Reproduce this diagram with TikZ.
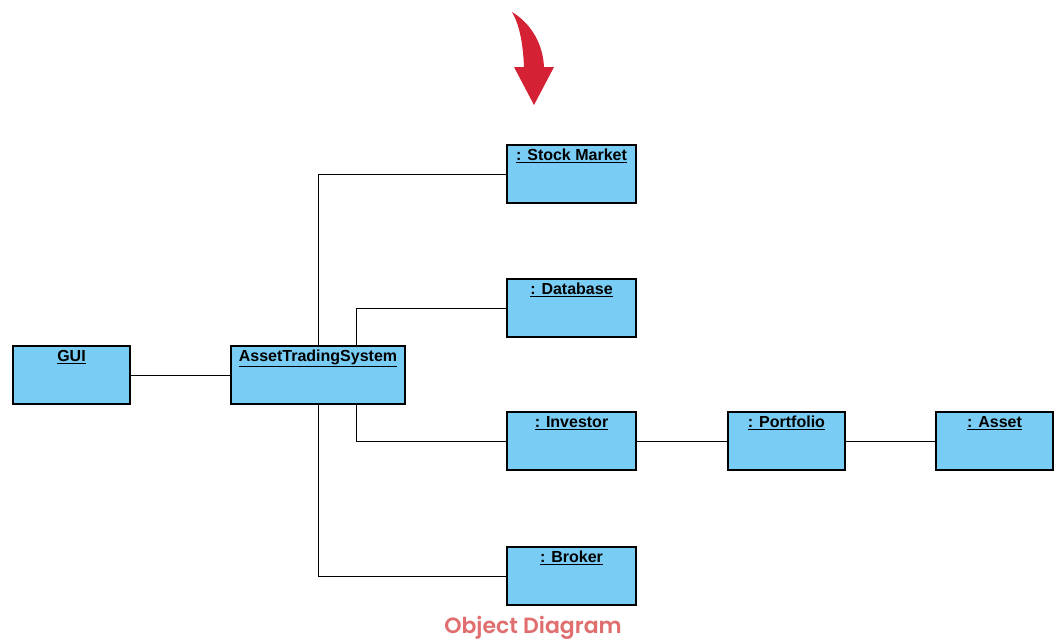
\documentclass[tikz,border=0pt]{standalone}
\usepackage{fontspec}
\setmainfont{Liberation Sans}
\newfontfamily\titlefont{Poppins}[UprightFont=* SemiBold]
\usepackage{tikz}

\definecolor{objblue}{HTML}{79CDF4}
\definecolor{arrowred}{HTML}{D42234}
\definecolor{titlered}{HTML}{E06E6E}

\begin{document}
\begin{tikzpicture}[x=1pt,y=-1pt,
	obj/.style={draw, line width=1.2pt, fill=objblue, rectangle,
		minimum width=#1, inner xsep=0pt, inner ysep=4pt,
		text height=11.5pt, text depth=38.5pt, font=\bfseries\fontsize{16}{16}\selectfont},
	obj/.default=129pt,
	link/.style={draw, line width=1pt}]
\useasboundingbox (0,0) rectangle (1061,641);
% red arrow pointing down
\fill [arrowred] (512,12) .. controls (532,24) and (543,45) .. (544,67)
	-- (554,67) -- (534,105) -- (514,67) -- (524,67)
	.. controls (523,42) and (519,24) .. (512,12) -- cycle;
% objects
\node [obj=117pt] (gui) at (71.5,375) {\underline{GUI}};
\node [obj=174pt] (ats) at (318,375) {\underline{AssetTradingSystem}};
\node [obj] (sm) at (571.5,174) {\underline{: Stock Market}};
\node [obj] (db) at (571.5,308) {\underline{: Database}};
\node [obj] (inv) at (571.5,441) {\underline{: Investor}};
\node [obj] (brk) at (571.5,576) {\underline{: Broker}};
\node [obj=117pt] (pf) at (786.5,441) {\underline{: Portfolio}};
\node [obj=117pt] (as) at (994.5,441) {\underline{: Asset}};
% links
\draw [link] (gui) -- (ats);
\draw [link] (ats.north) |- (sm.west);
\draw [link] ([xshift=38pt]ats.north) |- (db.west);
\draw [link] ([xshift=38pt]ats.south) |- (inv.west);
\draw [link] (ats.south) |- (brk.west);
\draw [link] (inv) -- (pf);
\draw [link] (pf) -- (as);
% title
\node [text=titlered, font=\titlefont\fontsize{22}{22}\selectfont] (title) at (533,628) {Object Diagram};
\end{tikzpicture}
\end{document}
